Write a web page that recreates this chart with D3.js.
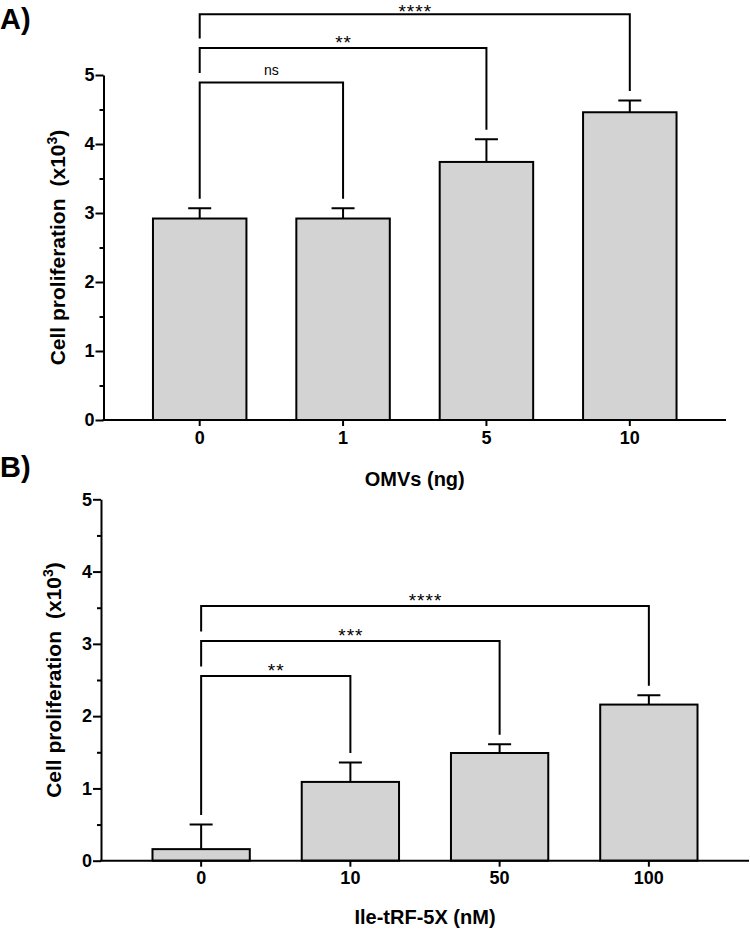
<!DOCTYPE html>
<html>
<head>
<meta charset="utf-8">
<script src="https://cdn.jsdelivr.net/npm/d3@7"></script>
<style>
  html, body { margin: 0; padding: 0; background: #fff; }
  svg { display: block; font-family: Arial, "Liberation Sans", sans-serif; }
</style>
</head>
<body>
<svg id="chart" width="750" height="932"></svg>
<script>
// ---------- data ----------
const yTicks = [0, 1, 2, 3, 4, 5];
const yMinorTicks = [0.5, 1.5, 2.5, 3.5, 4.5];

const categoriesA = ["0", "1", "5", "10"];
const meansA = [2.92, 2.92, 3.74, 4.46];
const errorsA = [0.15, 0.15, 0.33, 0.17];
const compareToA = ["1", "5", "10"];
const compareLabelsA = ["ns", "**", "****"];
const compareLevelsA = [4.89, 5.39, 5.88];

const categoriesB = ["0", "10", "50", "100"];
const meansB = [0.16, 1.09, 1.49, 2.16];
const errorsB = [0.34, 0.27, 0.12, 0.13];
const compareToB = ["10", "50", "100"];
const compareLabelsB = ["**", "***", "****"];
const compareLevelsB = [2.555, 3.04, 3.525];

// ---------- drawing ----------
const svg = d3.select("#chart");
const FONT = "Arial, 'Liberation Sans', sans-serif";

function panel(opts) {
  const { cats, means, errs, cmpTo, cmpLabels, cmpLevels, xRange, yRange, xTitle, letter, letterY, xTitleY, yTitleX } = opts;
  const g = svg.append("g");
  const x = d3.scaleBand().domain(cats).range(xRange).paddingInner(0.348).paddingOuter(0.345);
  const y = d3.scaleLinear().domain([0, 5]).range(yRange);
  const cx = c => x(c) + x.bandwidth() / 2;

  // bars
  g.selectAll("rect.bar").data(cats).join("rect")
    .attr("x", d => x(d)).attr("width", x.bandwidth())
    .attr("y", (d, i) => y(means[i])).attr("height", (d, i) => y(0) - y(means[i]))
    .attr("fill", "#d3d3d3").attr("stroke", "#000").attr("stroke-width", 2);

  // error bars (upper only)
  const capW = 23;
  g.selectAll("path.err").data(cats).join("path")
    .attr("d", (d, i) => {
      const xc = cx(d), yt = y(means[i] + errs[i]), yb = y(means[i]);
      return `M${xc},${yb}V${yt}M${xc - capW / 2},${yt}H${xc + capW / 2}`;
    })
    .attr("fill", "none").attr("stroke", "#000").attr("stroke-width", 2);

  // y axis
  const yAxis = d3.axisLeft(y).tickValues(yTicks).tickSize(8).tickSizeOuter(0).tickPadding(1).tickFormat(d3.format("d"));
  const ya = g.append("g").attr("transform", `translate(${xRange[0]},0)`).call(yAxis);
  ya.select(".domain").attr("stroke-width", 2);
  ya.selectAll(".tick line").attr("stroke-width", 2);
  ya.selectAll(".tick text").attr("font-size", 18).attr("font-weight", "bold").attr("fill", "#000")
    .attr("font-family", FONT);
  const yMinor = d3.axisLeft(y).tickValues(yMinorTicks).tickSize(4).tickSizeOuter(0).tickFormat("");
  const ym = g.append("g").attr("transform", `translate(${xRange[0]},0)`).call(yMinor);
  ym.select(".domain").remove();
  ym.selectAll(".tick line").attr("stroke-width", 2);

  // x axis
  const xAxis = d3.axisBottom(x).tickSize(6).tickSizeOuter(0).tickPadding(5);
  const xa = g.append("g").attr("transform", `translate(0,${y(0)})`).call(xAxis);
  xa.select(".domain").attr("stroke-width", 2).attr("d", `M${xRange[0] - 1},0H${xRange[1]}`);
  xa.selectAll(".tick line").attr("stroke-width", 2);
  xa.selectAll(".tick text").attr("font-size", 18).attr("font-weight", "bold").attr("fill", "#000")
    .attr("font-family", FONT);

  // significance brackets
  const gap = 9.5;
  cmpTo.forEach((to, k) => {
    const x1 = cx(cats[0]), x2 = cx(to);
    const yl = y(cmpLevels[k]);
    const leftEnd = k === 0 ? y(means[0] + errs[0]) - gap : y(cmpLevels[k - 1]) - gap;
    const j = cats.indexOf(to);
    const rightEnd = y(means[j] + errs[j]) - gap;
    g.append("path")
      .attr("d", `M${x1},${leftEnd}V${yl}H${x2}V${rightEnd}`)
      .attr("fill", "none").attr("stroke", "#000").attr("stroke-width", 2);
    const isNs = cmpLabels[k] === "ns";
    g.append("text")
      .attr("x", (x1 + x2) / 2 + (isNs ? 0 : 0.5))
      .attr("y", isNs ? yl - 8 : Math.max(yl + 1, 17.5))
      .attr("text-anchor", "middle")
      .attr("font-size", isNs ? 14 : 19)
      .attr("letter-spacing", isNs ? 0 : 1)
      .attr("fill", "#000")
      .text(cmpLabels[k]);
  });

  // axis titles
  g.append("text")
    .attr("x", (xRange[0] + xRange[1]) / 2).attr("y", xTitleY)
    .attr("text-anchor", "middle").attr("font-size", 20).attr("font-weight", "bold")
    .text(xTitle);
  const yt = g.append("text")
    .attr("transform", `translate(${yTitleX},${(yRange[0] + yRange[1]) / 2}) rotate(-90)`)
    .attr("text-anchor", "middle").attr("font-size", 21).attr("font-weight", "bold");
  yt.append("tspan").text("Cell proliferation");
  yt.append("tspan").attr("dx", 12).text("(x10");
  yt.append("tspan").attr("baseline-shift", "super").attr("font-size", 14).text("3");
  yt.append("tspan").text(")");

  // panel letter
  g.append("text").attr("x", 0).attr("y", letterY).attr("font-size", 29).attr("font-weight", "bold").text(letter);
}

panel({
  cats: categoriesA, means: meansA, errs: errorsA,
  cmpTo: compareToA, cmpLabels: compareLabelsA, cmpLevels: compareLevelsA,
  xRange: [103.5, 726], yRange: [420, 75],
  xTitle: "OMVs (ng)", letter: "A)", letterY: 29, xTitleY: 486, yTitleX: 65
});
panel({
  cats: categoriesB, means: meansB, errs: errorsB,
  cmpTo: compareToB, cmpLabels: compareLabelsB, cmpLevels: compareLevelsB,
  xRange: [101, 749], yRange: [860.7, 499.3],
  xTitle: "Ile-tRF-5X (nM)", letter: "B)", letterY: 477, xTitleY: 924, yTitleX: 61
});
</script>
</body>
</html>
